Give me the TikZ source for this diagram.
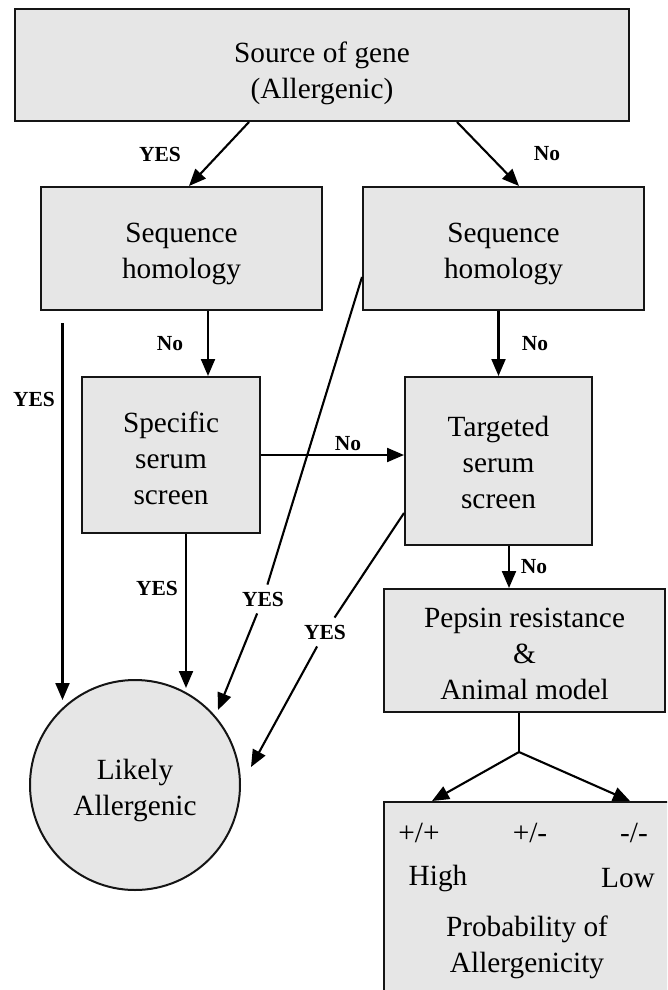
\documentclass[tikz,border=0pt]{standalone}
\usepackage{fontspec}
\setmainfont{Liberation Serif}
\usetikzlibrary{arrows.meta,calc}
\definecolor{boxfill}{HTML}{E6E6E6}
\definecolor{edgec}{HTML}{151515}
\begin{document}
\begin{tikzpicture}[x=1pt,y=-1pt,
  box/.style={draw=edgec,fill=boxfill,line width=2pt,inner sep=0pt},
  arr/.style={line width=2.1pt,-{Triangle[length=17pt,width=14pt]}},
  ln/.style={line width=2.1pt},
  lab/.style={font=\fontsize{21.5}{24}\selectfont\bfseries,inner sep=0pt},
  yeslab/.style={font=\fontsize{21.5}{24}\selectfont\bfseries,inner sep=7pt},
  txt/.style={font=\fontsize{29.3}{36}\selectfont,inner sep=0pt,align=center}]
\useasboundingbox (0,0) rectangle (667,990);
\clip (0,0) rectangle (667,990);
\fill[white] (0,0) rectangle (667,990);

% boxes
\node[box,minimum width=614pt,minimum height=112pt,
  label={[txt,yshift=-8pt]center:{Source of gene\\(Allergenic)}}] (src) at (322,65) {};
\node[box,minimum width=281pt,minimum height=123pt,
  label={[txt,yshift=-5.5pt]center:{Sequence\\homology}}] (seqL) at (181.5,248.5) {};
\node[box,minimum width=281pt,minimum height=123pt,
  label={[txt,yshift=-5.5pt]center:{Sequence\\homology}}] (seqR) at (503.5,248.5) {};
\node[box,minimum width=178pt,minimum height=156pt,
  label={[txt,yshift=-3pt]center:{Specific\\serum\\screen}}] (spec) at (171,455) {};
\node[box,minimum width=187pt,minimum height=168pt,
  label={[txt,yshift=-1.5pt]center:{Targeted\\serum\\screen}}] (targ) at (498.5,461) {};
\node[box,minimum width=281pt,minimum height=123pt,
  label={[txt,yshift=-3pt]center:{Pepsin resistance\\\&\\Animal model}}] (pep) at (524.5,650.5) {};
\node[box,circle,minimum size=210pt,
  label={[txt,yshift=-5pt]center:{Likely\\Allergenic}}] (lik) at (135,785) {};
\node[box,minimum width=320pt,minimum height=220pt,anchor=north west] (prob) at (383,801) {};

% texts in the bottom box
\node[txt] (pp) at (419,833) {+/+};
\node[txt] (pm) at (530,833) {+/-};
\node[txt] (mm) at (634,833) {-/-};
\node[txt] (hi) at (438,878) {High};
\node[txt] (lo) at (628,878) {Low};
\node[txt] (pa) at (527,947.5) {Probability of\\Allergenicity};

% top arrows
\draw[arr] ([xshift=-73pt]src.south) -- ([xshift=7.5pt]seqL.north);
\draw[arr] ([xshift=135pt]src.south) -- ([xshift=15.5pt]seqR.north);
\node[lab] (l1) at (160,154) {YES};
\node[lab] (l2) at (547,154) {No};

% No arrows
\draw[arr] ([xshift=26.5pt]seqL.south) -- ([xshift=26.5pt]seqL.south |- spec.north);
\node[lab] (l3) at (170,344) {No};
\draw[arr] (seqR.south -| targ.north) -- (targ.north);
\node[lab] (l4) at (535,344) {No};
\draw[arr] (spec.east) -- (spec.east -| targ.west);
\node[lab] (l5) at (348,444) {No};
\draw[arr] ([xshift=10.5pt]targ.south) -- ([xshift=10.5pt]targ.south |- pep.north);
\node[lab] (l6) at (534,567) {No};

% YES arrows to circle
\coordinate (a1) at (62.5,323);
\coordinate (t1) at (62.5,700);
\draw[arr] (a1) -- (t1);
\node[lab] (l7) at (34,399) {YES};

\coordinate (t2) at (186,688);
\draw[arr] (spec.south -| t2) -- (t2);
\node[lab] (l8) at (157,588) {YES};

\node[yeslab] (l9) at (263,599) {YES};
\coordinate (t3) at (218,710);
\draw[ln] ([yshift=-28.5pt]seqR.west) -- (l9);
\draw[arr] (l9) -- (t3);

\node[yeslab] (l10) at (325,632) {YES};
\coordinate (t4) at (251,767);
\draw[ln] ([yshift=-52pt]targ.west) -- (l10);
\draw[arr] (l10) -- (t4);

% pepsin to probability
\coordinate (j) at (519,752);
\draw[ln] (pep.south -| j) -- (j);
\draw[arr] (j) -- ([xshift=49pt]prob.north west);
\draw[arr] (j) -- ([xshift=247pt]prob.north west);
\end{tikzpicture}
\end{document}
